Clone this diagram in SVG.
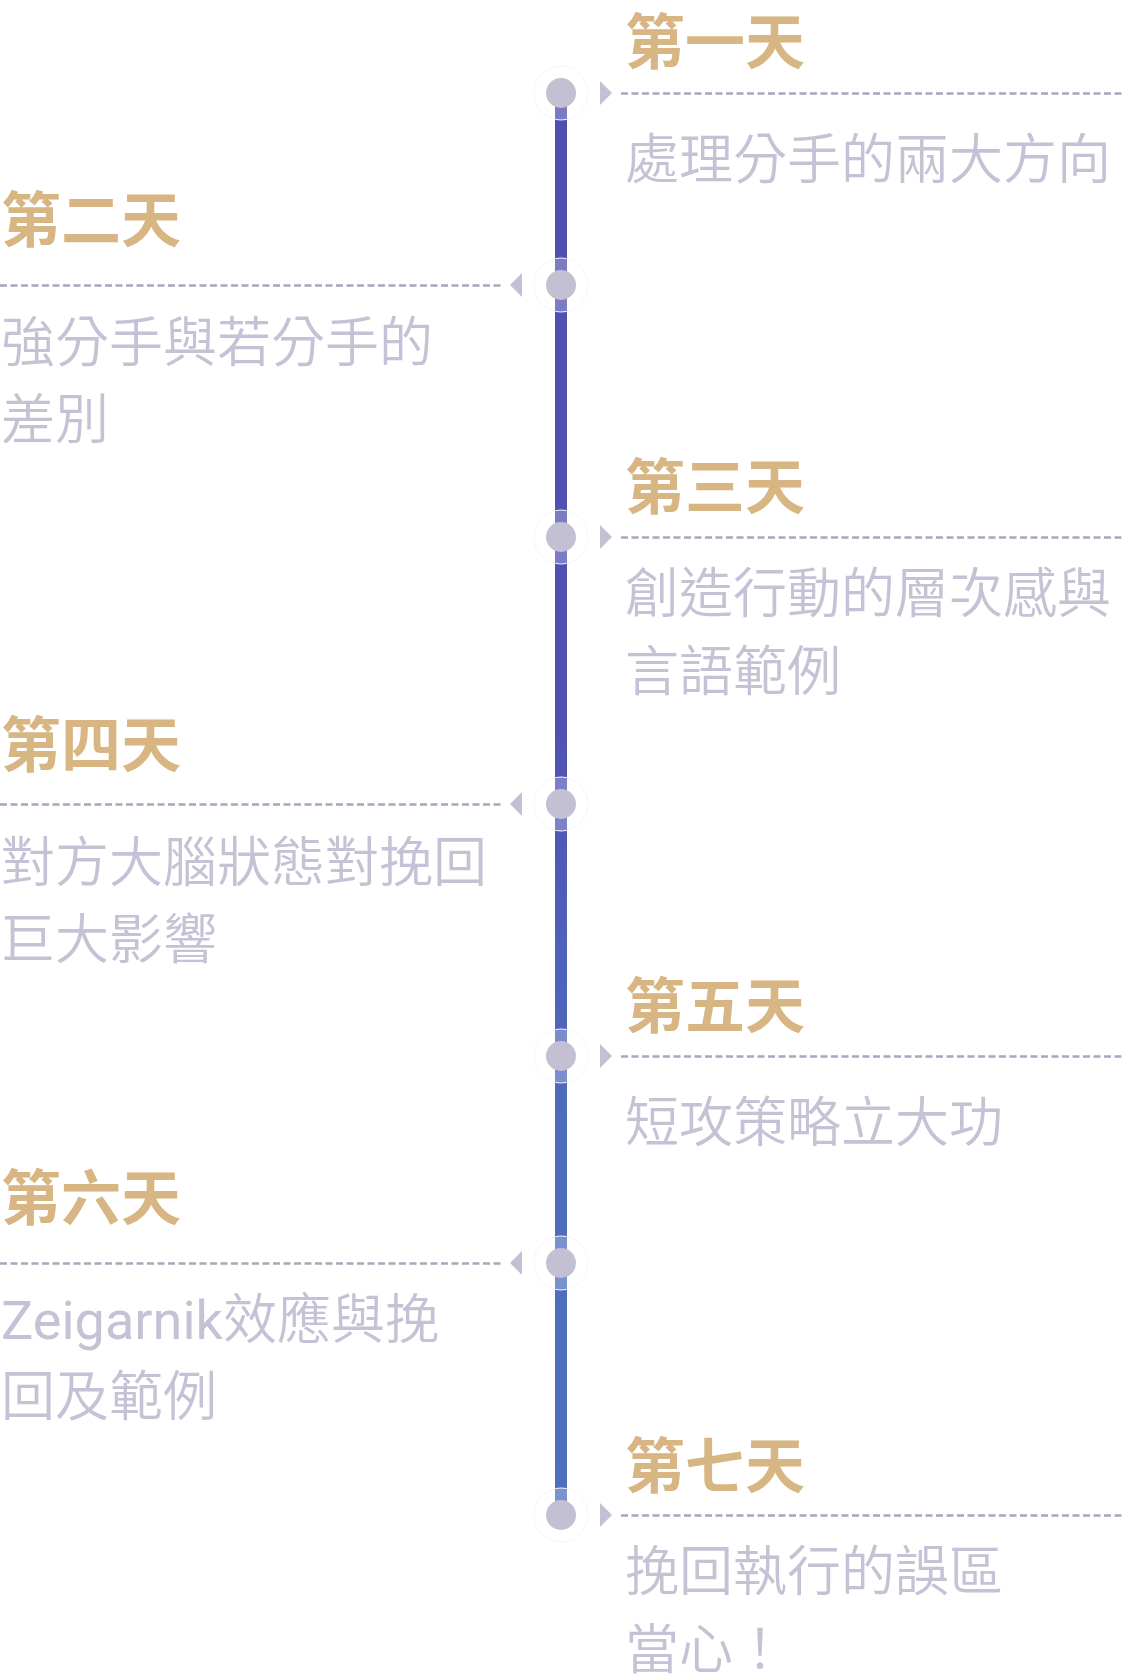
<svg xmlns="http://www.w3.org/2000/svg" width="1122" height="1674" viewBox="0 0 1122 1674">
<style>
.title{font-family:"Noto Sans CJK TC","Noto Sans CJK SC",sans-serif;font-size:60px;font-weight:700;fill:#d8b683}
.desc{font-family:"Noto Sans CJK TC","Noto Sans CJK SC",sans-serif;font-size:54px;font-weight:350;fill:#c6c2d5}
.latin{font-family:Roboto,"Noto Sans CJK TC",sans-serif;font-weight:400}
.dash{stroke:#aba6bd;stroke-width:2.5;stroke-dasharray:7 3.5;fill:none}
.tri{fill:#c4c0d3}
.halo{fill:#ffffff;fill-opacity:0.25;stroke:#f6f5f9;stroke-width:1}
.dot{fill:#c4c0d3}
</style>
<defs>
<linearGradient id="lg" gradientUnits="userSpaceOnUse" x1="0" y1="93" x2="0" y2="1515">
<stop offset="0" stop-color="#4f4fb0"/>
<stop offset="0.45" stop-color="#5052b1"/>
<stop offset="0.7" stop-color="#4e6abd"/>
<stop offset="1" stop-color="#4e70c0"/>
</linearGradient>
</defs>
<rect width="1122" height="1674" fill="#ffffff"/>
<g id="connectors">
<rect x="555" y="93" width="12" height="1422" fill="url(#lg)"/>
<line class="dash" x1="621" y1="93.5" x2="1122" y2="93.5"/>
<line class="dash" x1="0" y1="285.5" x2="502" y2="285.5"/>
<line class="dash" x1="621" y1="537.5" x2="1122" y2="537.5"/>
<line class="dash" x1="0" y1="804.5" x2="502" y2="804.5"/>
<line class="dash" x1="621" y1="1056.5" x2="1122" y2="1056.5"/>
<line class="dash" x1="0" y1="1263.5" x2="502" y2="1263.5"/>
<line class="dash" x1="621" y1="1515.5" x2="1122" y2="1515.5"/>
</g>
<g id="day1">
<circle class="halo" cx="561" cy="93" r="27"/>
<circle class="dot" cx="561" cy="93" r="15"/>
<polygon class="tri" points="600,81 612,93 600,105"/>
<text class="title" x="625" y="64">第一天</text>
<text class="desc" x="625" y="179">處理分手的兩大方向</text>
</g>
<g id="day2">
<circle class="halo" cx="561" cy="285" r="27"/>
<circle class="dot" cx="561" cy="285" r="15"/>
<polygon class="tri" points="522,273 510,285 522,297"/>
<text class="title" x="1" y="242">第二天</text>
<text class="desc" x="1" y="362">強分手與若分手的</text>
<text class="desc" x="1" y="439">差別</text>
</g>
<g id="day3">
<circle class="halo" cx="561" cy="537" r="27"/>
<circle class="dot" cx="561" cy="537" r="15"/>
<polygon class="tri" points="600,525 612,537 600,549"/>
<text class="title" x="625" y="509">第三天</text>
<text class="desc" x="625" y="613">創造行動的層次感與</text>
<text class="desc" x="625" y="691">言語範例</text>
</g>
<g id="day4">
<circle class="halo" cx="561" cy="804" r="27"/>
<circle class="dot" cx="561" cy="804" r="15"/>
<polygon class="tri" points="522,792 510,804 522,816"/>
<text class="title" x="1" y="767">第四天</text>
<text class="desc" x="1" y="882">對方大腦狀態對挽回</text>
<text class="desc" x="1" y="959">巨大影響</text>
</g>
<g id="day5">
<circle class="halo" cx="561" cy="1056" r="27"/>
<circle class="dot" cx="561" cy="1056" r="15"/>
<polygon class="tri" points="600,1044 612,1056 600,1068"/>
<text class="title" x="625" y="1028">第五天</text>
<text class="desc" x="625" y="1142">短攻策略立大功</text>
</g>
<g id="day6">
<circle class="halo" cx="561" cy="1263" r="27"/>
<circle class="dot" cx="561" cy="1263" r="15"/>
<polygon class="tri" points="522,1251 510,1263 522,1275"/>
<text class="title" x="1" y="1220">第六天</text>
<text class="desc" x="1" y="1339"><tspan class="latin">Zeigarnik</tspan>效應與挽</text>
<text class="desc" x="1" y="1416">回及範例</text>
</g>
<g id="day7">
<circle class="halo" cx="561" cy="1515" r="27"/>
<circle class="dot" cx="561" cy="1515" r="15"/>
<polygon class="tri" points="600,1503 612,1515 600,1527"/>
<text class="title" x="625" y="1488">第七天</text>
<text class="desc" x="625" y="1591">挽回執行的誤區</text>
<text class="desc" x="625" y="1669">當心！</text>
</g>
</svg>
